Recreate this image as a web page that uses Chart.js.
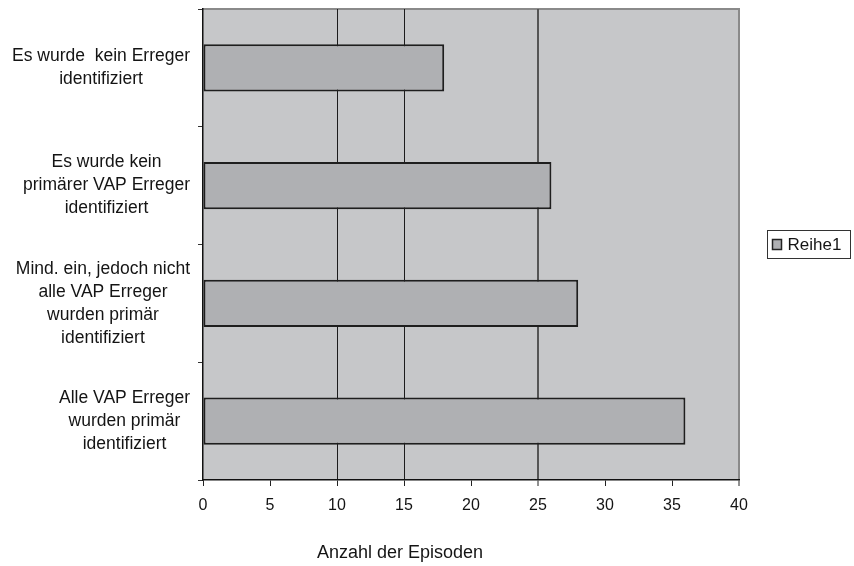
<!DOCTYPE html>
<html>
<head>
<meta charset="utf-8">
<script src="https://cdn.jsdelivr.net/npm/chart.js@4"></script>
<style>
  html, body { margin: 0; padding: 0; background: #fff; }
  #wrap { width: 854px; height: 566px; position: relative; }
</style>
</head>
<body>
<div id="wrap"><canvas id="c" width="854" height="566"></canvas></div>
<script>
const categories = [
  ["Es wurde  kein Erreger", "identifiziert"],
  ["Es wurde kein", "primärer VAP Erreger", "identifiziert"],
  ["Mind. ein, jedoch nicht", "alle VAP Erreger", "wurden primär", "identifiziert"],
  ["Alle VAP Erreger", "wurden primär", "identifiziert"]
];
const seriesName = "Reihe1";
const values = [18, 26, 28, 36];
const xTitle = "Anzahl der Episoden";

const FONT = '"Liberation Sans", Arial, sans-serif';
const BAR_FILL = '#afb0b3';
const BAR_EDGE = '#1e1e1e';
const PLOT_BG = '#c6c7c9';
const TEXT = '#141414';

const bgPlugin = {
  id: 'plotBg',
  beforeDraw(chart) {
    const { ctx, chartArea: a } = chart;
    ctx.save();
    ctx.fillStyle = PLOT_BG;
    ctx.fillRect(a.left, a.top, a.right - a.left, a.bottom - a.top);
    ctx.strokeStyle = '#8a8a8a';
    ctx.lineWidth = 2;
    ctx.beginPath();
    ctx.moveTo(a.left, a.top);
    ctx.lineTo(a.right, a.top);
    ctx.lineTo(a.right, a.bottom);
    ctx.stroke();
    ctx.restore();
  }
};

const textPlugin = {
  id: 'yLabelsAndTitle',
  afterDraw(chart) {
    const { ctx, chartArea: a } = chart;
    const s = chart.scales.y;
    ctx.save();
    ctx.font = '17.5px ' + FONT;
    ctx.fillStyle = TEXT;
    ctx.textAlign = 'center';
    ctx.textBaseline = 'middle';
    const lh = 23;
    chart.data.labels.forEach((lines, i) => {
      const y = s.getPixelForTick(i);
      const w = Math.max(...lines.map(l => ctx.measureText(l).width));
      const cx = s.right - 13 - w / 2;
      lines.forEach((l, j) => {
        ctx.fillText(l, cx, y + (j - (lines.length - 1) / 2) * lh);
      });
    });
    // axis title (offset left of the plot centre, as in the original)
    ctx.font = '18px ' + FONT;
    ctx.fillText(xTitle, a.left + 197, a.bottom + 73);
    ctx.restore();
  }
};

const legendPlugin = {
  id: 'boxLegend',
  afterDraw(chart) {
    const { ctx, chartArea: a } = chart;
    const ds = chart.data.datasets[0];
    const x0 = a.right + 28.5, w = 83, h = 28;
    const y0 = Math.round((a.top + a.bottom) / 2 - h / 2) - 0.5;
    ctx.save();
    ctx.strokeStyle = '#333';
    ctx.lineWidth = 1;
    ctx.strokeRect(x0, y0, w, h);
    ctx.fillStyle = ds.backgroundColor;
    ctx.fillRect(x0 + 5, y0 + 9, 9, 10);
    ctx.strokeStyle = '#222';
    ctx.lineWidth = 1.5;
    ctx.strokeRect(x0 + 5, y0 + 9, 9, 10);
    ctx.font = '17px ' + FONT;
    ctx.fillStyle = TEXT;
    ctx.textAlign = 'left';
    ctx.textBaseline = 'middle';
    ctx.fillText(ds.label, x0 + 20, y0 + h / 2 + 0.5);
    ctx.restore();
  }
};

new Chart(document.getElementById('c'), {
  type: 'bar',
  data: {
    labels: categories,
    datasets: [{
      label: seriesName,
      data: values,
      backgroundColor: BAR_FILL,
      borderColor: BAR_EDGE,
      borderWidth: 2,
      borderSkipped: false,
      categoryPercentage: 1,
      barPercentage: 0.4
    }]
  },
  options: {
    indexAxis: 'y',
    responsive: false,
    animation: false,
    devicePixelRatio: 1,
    layout: { padding: { top: 9, right: 115, left: 0, bottom: 0 } },
    plugins: { legend: { display: false }, tooltip: { enabled: false } },
    scales: {
      x: {
        min: 0, max: 40,
        ticks: { stepSize: 5, color: TEXT, font: { family: FONT, size: 16 }, padding: 10 },
        grid: {
          color: (c) => {
            const v = c.tick ? c.tick.value : null;
            if (v === 10 || v === 15) return '#1c1c1c';
            if (v === 25) return '#555';
            if (v === 40) return '#8a8a8a';
            return 'rgba(0,0,0,0)';
          },
          lineWidth: (c) => {
            const v = c.tick ? c.tick.value : null;
            if (v === 25 || v === 40) return 2;
            return 1;
          },
          tickColor: '#222',
          tickLength: 6,
          tickWidth: 1
        },
        border: { display: true, color: '#111', width: 1.5 },
        title: { display: false, text: xTitle },
        afterFit: (s) => { s.height = 86; }
      },
      y: {
        ticks: { display: false },
        grid: { drawOnChartArea: false, drawTicks: true, tickLength: 5, color: '#333', offset: true },
        border: { display: true, color: '#111', width: 1.5 },
        afterFit: (s) => { s.width = 203; }
      }
    }
  },
  plugins: [bgPlugin, textPlugin, legendPlugin]
});
</script>
</body>
</html>
